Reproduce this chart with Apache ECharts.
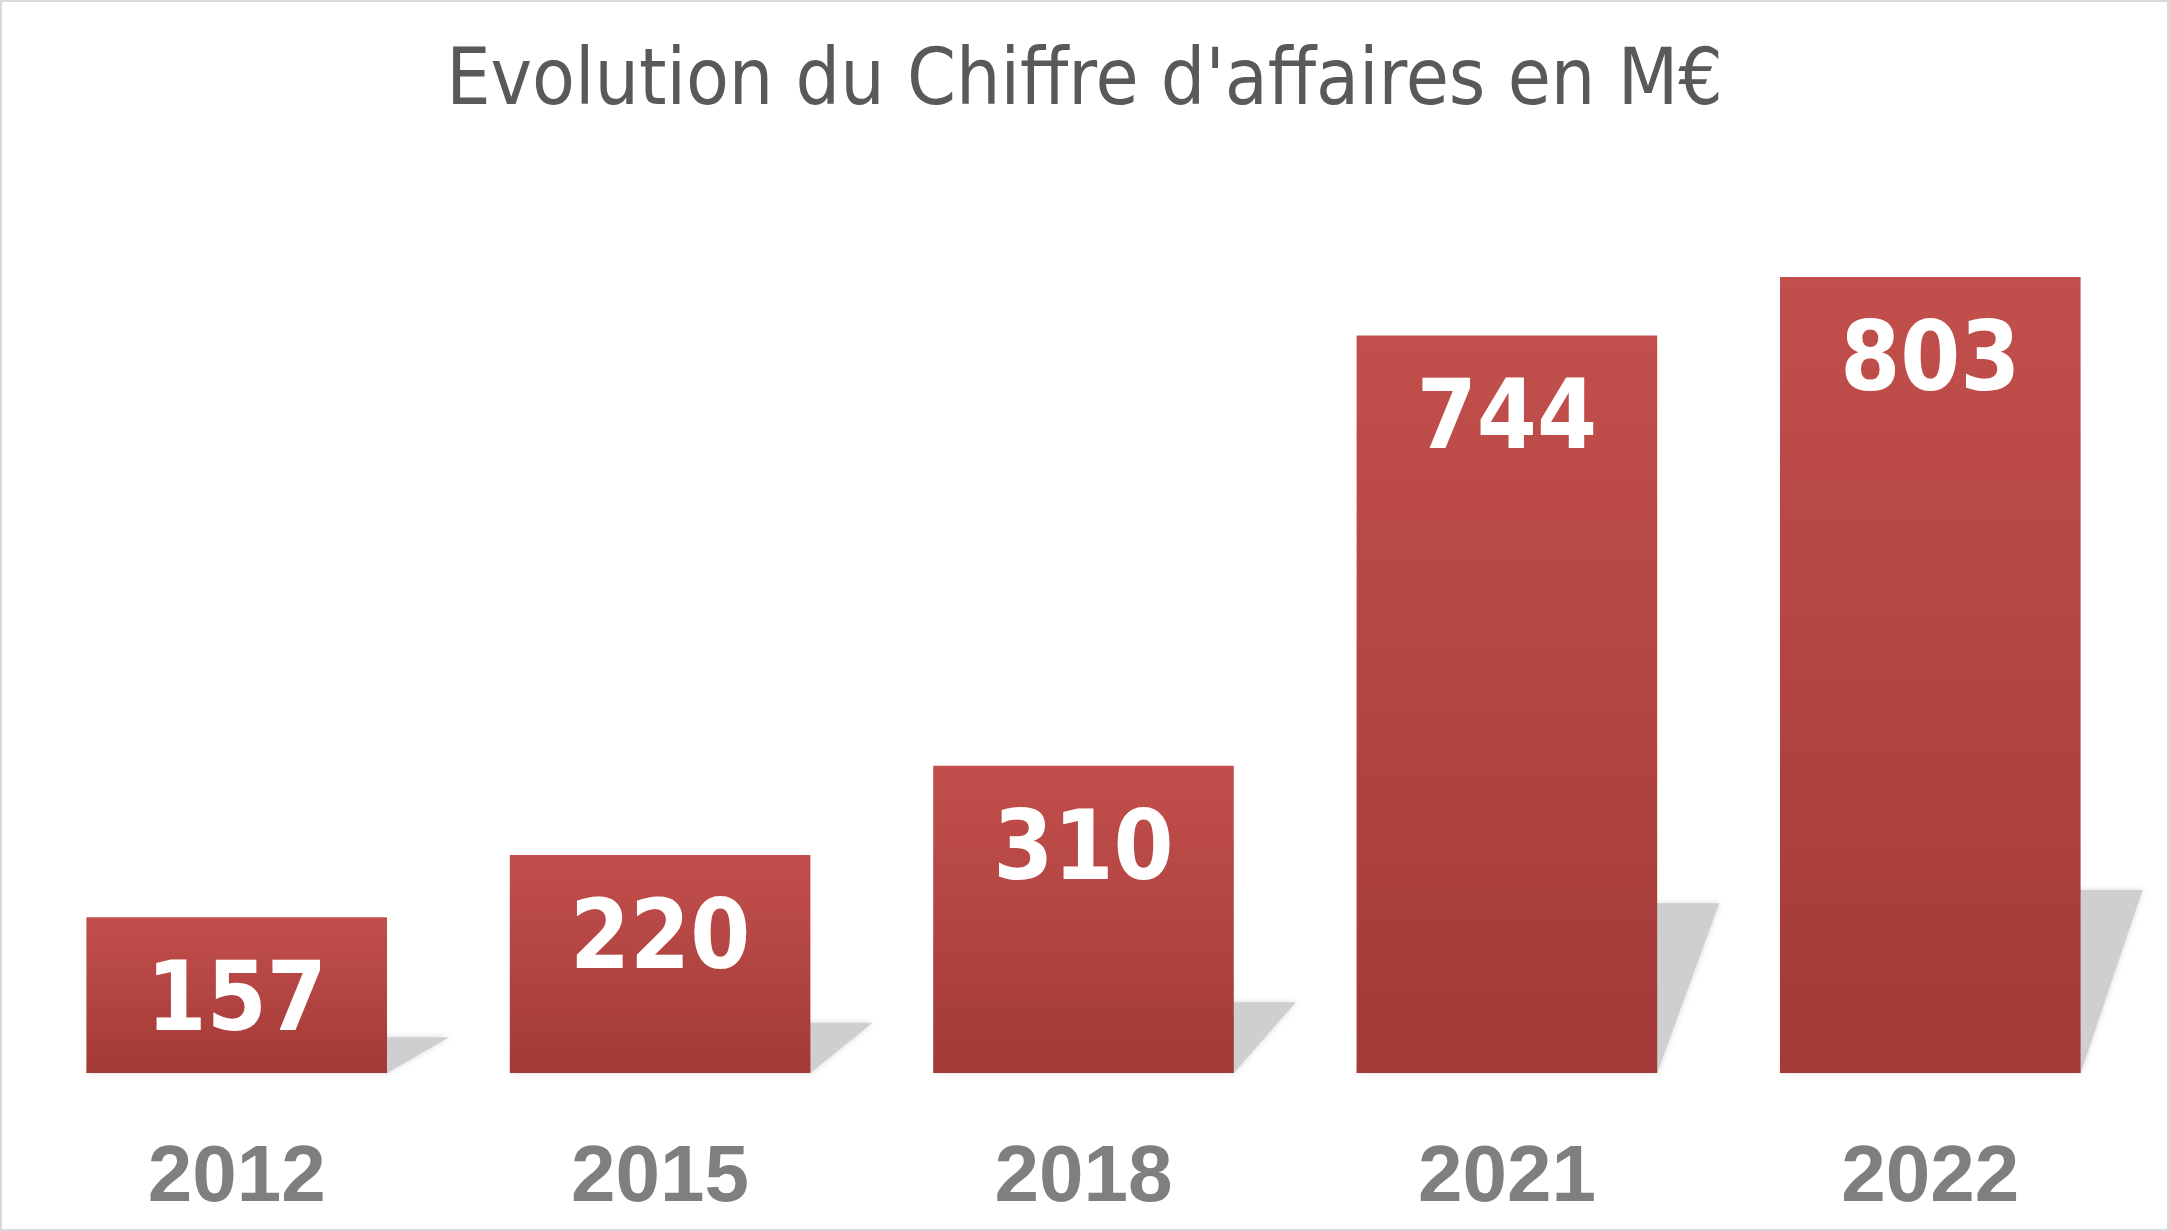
<!DOCTYPE html>
<html><head><meta charset="utf-8">
<script src="https://cdn.jsdelivr.net/npm/echarts@6/dist/echarts.min.js"></script>
<style>
html,body{margin:0;padding:0;background:#fff}
#chart{width:2165px;height:1227px;border:2px solid #d9d9d9}
</style></head>
<body><div id="chart"></div>
<script>
var years = ['2012', '2015', '2018', '2021', '2022'];
var revenue = [157, 220, 310, 744, 803];

var chart = echarts.init(document.getElementById('chart'));

// ombre portée inclinée derrière chaque barre
function renderShadow(params, api){
  var idx = api.value(0);
  var base = api.coord([idx, 0]);
  var top = api.coord([idx, api.value(1)]);
  var w = api.size([1, 0])[0] * 0.71;
  var h = (base[1] - top[1]) * 0.23;
  var x0 = base[0] - w / 2, x1 = base[0] + w / 2, dx = 62;
  return {
    type: 'polygon',
    shape: {points: [[x0, base[1]], [x0 + dx, base[1] - h], [x1 + dx, base[1] - h], [x1, base[1]]]},
    style: {fill: '#cfcfcf', shadowBlur: 6, shadowColor: 'rgba(0,0,0,0.15)'},
    z2: 0
  };
}

chart.setOption({
  animation: false,
  title: {
    text: "Evolution du Chiffre d'affaires en M€",
    left: 'center', top: 38,
    textStyle: {fontFamily: 'DejaVu Sans Condensed', fontWeight: 'normal', fontSize: 78, color: '#595959'}
  },
  grid: {left: 23, right: 25, top: 275, bottom: 156},
  xAxis: {
    type: 'category', data: years,
    axisLine: {show: false}, axisTick: {show: false},
    axisLabel: {margin: 66, fontFamily: 'Liberation Sans', fontWeight: 'bold', fontSize: 80, color: '#7f7f7f'}
  },
  yAxis: {type: 'value', min: 0, max: 803, show: false, splitLine: {show: false}},
  series: [{
    type: 'custom',
    renderItem: renderShadow,
    data: revenue.map(function(v, i){ return [i, v]; }),
    z: 1, silent: true
  }, {
    type: 'bar',
    data: revenue,
    barWidth: '71%',
    z: 2,
    itemStyle: {
      color: new echarts.graphic.LinearGradient(0, 0, 0, 1, [
        {offset: 0, color: '#c24f4c'},
        {offset: 1, color: '#a23a37'}
      ])
    },
    label: {
      show: true, position: 'insideTop', distance: 40,
      fontFamily: 'DejaVu Sans Condensed', fontWeight: 'bold', fontSize: 96, color: '#ffffff'
    }
  }]
});
</script></body></html>
